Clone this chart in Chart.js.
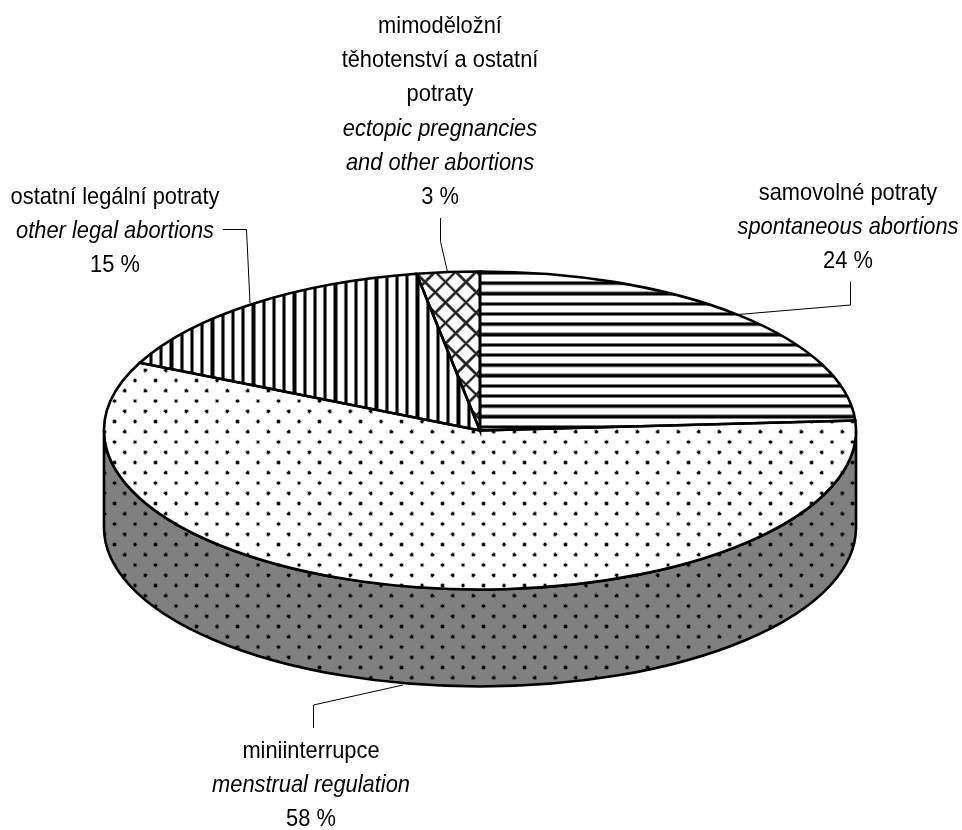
<!DOCTYPE html>
<html><head><meta charset="utf-8">
<style>html,body{margin:0;padding:0;background:#fff}#w{width:962px;height:830px}</style>
<script src="https://cdn.jsdelivr.net/npm/chart.js@4"></script></head>
<body><div id="w"><canvas id="c" width="962" height="830"></canvas></div>
<script>
const categories = ["samovolné potraty","miniinterrupce","ostatní legální potraty","mimoděložní těhotenství a ostatní potraty"];
const values = [24,58,15.3,2.7];
const labelsCz = [["samovolné potraty"],["miniinterrupce"],["ostatní legální potraty"],["mimoděložní","těhotenství a ostatní","potraty"]];
const labelsEn = [["spontaneous abortions"],["menstrual regulation"],["other legal abortions"],["ectopic pregnancies","and other abortions"]];
const percentText = ["24 %","58 %","15 %","3 %"];

const CX=480, CY=430.5, RX=376, RY=159, DEPTH=97;
const FONT='"Liberation Sans", Arial, sans-serif', FS=24, SQUEEZE=0.91, LH=34.2;

function tile(draw,bg){const c=document.createElement('canvas');c.width=c.height=82;const g=c.getContext('2d');g.fillStyle=bg||'#fff';g.fillRect(0,0,82,82);draw(g);return c;}
function dots(bg){return tile(g=>{
  for(const [x,y] of [[20.5,20.5],[61.5,61.5]]){
    g.fillStyle='rgba(0,0,0,0.3)';g.beginPath();g.arc(x,y,10,0,7);g.fill();
    g.fillStyle='#000';g.beginPath();g.arc(x,y,6,0,7);g.fill();}
},bg);}
function hlines(){return tile(g=>{for(let i=0;i<2;i++){g.fillStyle='#777';g.fillRect(0,i*41+12,82,17);g.fillStyle='#000';g.fillRect(0,i*41+16,82,9);}});}
function vlines(){return tile(g=>{for(let i=0;i<2;i++){g.fillStyle='#777';g.fillRect(i*41+12,0,17,82);g.fillStyle='#000';g.fillRect(i*41+16,0,9,82);}});}
function cross(){return tile(g=>{for(const [col,w] of [['#888',13],['#222',7]]){g.strokeStyle=col;g.lineWidth=w;for(let i=-82;i<=164;i+=82){g.beginPath();g.moveTo(i,0);g.lineTo(i+82,82);g.stroke();g.beginPath();g.moveTo(i+82,0);g.lineTo(i,82);g.stroke();}}});}

const ctx0=document.getElementById('c').getContext('2d');
function mkPat(cv,ox,oy){const p=ctx0.createPattern(cv,'repeat');p._ox=ox;p._oy=oy;return p;}
const patTop=[mkPat(hlines(),0,278.2),mkPat(dots('#fff'),129.9,395.9),mkPat(vlines(),381.6,0),mkPat(cross(),425,282)];
const patWall=mkPat(dots('#808080'),129.9,395.9);
function anchor(p,inv){let m=new DOMMatrix();if(inv)m=m.multiply(inv);m=m.translate(p._ox,p._oy).scale(0.25);p.setTransform(m);}

const pie3d={id:'pie3d',
 beforeDatasetsDraw(chart){
  const arcs=chart.getDatasetMeta(0).data,a0=arcs[0],ctx=chart.ctx;
  const k=RY/a0.outerRadius;
  ctx.save();
  arcs.forEach(a=>{
    const s=Math.max(a.startAngle,0),e=Math.min(a.endAngle,Math.PI);
    if(e<=s)return;
    ctx.beginPath();
    ctx.ellipse(CX,CY,RX,RY,0,s,e);
    ctx.ellipse(CX,CY+DEPTH,RX,RY,0,e,s,true);
    ctx.closePath();
    anchor(patWall);ctx.fillStyle=patWall;ctx.fill();
    ctx.strokeStyle='#000';ctx.lineWidth=2.6;ctx.stroke();
  });
  ctx.restore();
  ctx.save();
  const T=new DOMMatrix().translate(CX,CY).scale(1,k).translate(-a0.x,-a0.y);
  ctx.setTransform(T);
  const inv=T.inverse();
  patTop.forEach(p=>anchor(p,inv));
 },
 afterDatasetsDraw(chart){
  const ctx=chart.ctx,arcs=chart.getDatasetMeta(0).data;
  ctx.restore();
  ctx.save();
  ctx.strokeStyle='#000';ctx.lineWidth=2.6;ctx.lineJoin='miter';
  arcs.forEach(a=>{ctx.beginPath();ctx.moveTo(CX,CY);ctx.ellipse(CX,CY,RX,RY,0,a.startAngle,a.endAngle);ctx.closePath();ctx.stroke();});
  ctx.lineWidth=1;
  [[[850.5,282],[850.5,305],[738,314.5]],
   [[313.5,728],[313.5,705],[403,685]],
   [[223,229.5],[246.5,229.5],[250,303]],
   [[440.5,218],[440.5,241.5],[447.5,272]]].forEach(l=>{ctx.beginPath();l.forEach((p,i)=>i?ctx.lineTo(p[0],p[1]):ctx.moveTo(p[0],p[1]));ctx.stroke();});
  ctx.fillStyle='#000';ctx.textAlign='center';ctx.textBaseline='alphabetic';
  const places=[[848,200],[311,758],[115,203.5],[440,33]];
  places.forEach((pl,i)=>{
    const lines=[...labelsCz[i].map(t=>[t,'']),...labelsEn[i].map(t=>[t,'italic ']),[percentText[i],'']];
    lines.forEach((l,j)=>{
      ctx.save();ctx.translate(pl[0],pl[1]+j*LH);ctx.scale(SQUEEZE,1);
      ctx.font=l[1]+FS+'px '+FONT;ctx.fillText(l[0],0,0);ctx.restore();
    });
  });
  ctx.restore();
 }
};

new Chart(document.getElementById('c'),{
 type:'pie',
 data:{labels:categories,datasets:[{data:values,backgroundColor:patTop,borderWidth:0,hoverOffset:0}]},
 options:{responsive:false,animation:false,rotation:0,
  layout:{padding:{left:104,right:106,top:39,bottom:39}},
  plugins:{legend:{display:false},tooltip:{enabled:false},title:{display:false}}},
 plugins:[pie3d]
});
</script></body></html>
